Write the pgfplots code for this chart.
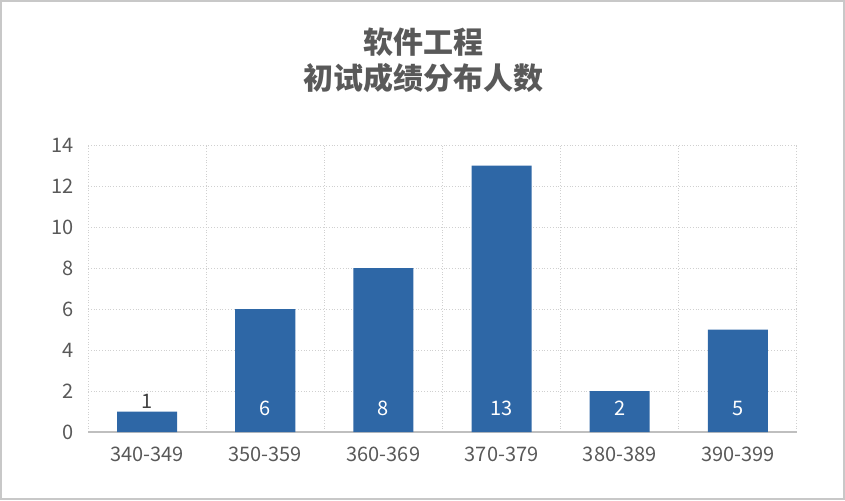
\documentclass[border=0pt]{standalone}
\usepackage{fontspec}
\setmainfont{Noto Sans CJK SC}
\usepackage{pgfplots}
\pgfplotsset{compat=1.18}
\definecolor{barblue}{HTML}{2E67A6}
\definecolor{txtgray}{HTML}{595959}
\definecolor{gridgray}{HTML}{D0D0D0}
\definecolor{axisgray}{HTML}{BFBFBF}
\definecolor{framegray}{HTML}{C8C8C8}

% 1 px of the reference = 0.5pt
\begin{document}
\begin{tikzpicture}
  \path[use as bounding box] (0pt,0pt) rectangle (422.5pt,250pt);
  \draw[framegray, line width=0.6pt] (0.5pt,0.5pt) rectangle (422pt,249.5pt);
  \node[font=\bfseries\fontsize{15}{18}\selectfont, text=txtgray, align=center]
    at (211.5pt,220pt) {软件工程\\初试成绩分布人数};
  \begin{axis}[
    at={(44pt,34pt)}, anchor=south west,
    scale only axis, width=354.5pt, height=143.5pt,
    xmin=-0.5, xmax=5.5, ymin=0, ymax=14,
    ytick={0,2,...,14},
    xtick={0,...,5},
    xticklabels={340-349,350-359,360-369,370-379,380-389,390-399},
    minor xtick={-0.5,0.5,...,5.5},
    ymajorgrids, xminorgrids,
    major grid style={gridgray, densely dotted, line width=0.5pt},
    minor grid style={gridgray, densely dotted, line width=0.5pt},
    axis x line*=bottom, axis y line*=left,
    axis line style={-},
    y axis line style={draw=none},
    x axis line style={draw=axisgray, line width=0.7pt},
    major tick length=0pt, minor tick length=0pt,
    tick style={draw=none},
    ticklabel style={font=\fontsize{10}{12}\selectfont, text=txtgray},
    /pgf/number format/assume math mode=true,
    yticklabel style={xshift=-3.5pt},
    xticklabel style={yshift=-4pt},
  ]
    % bars
    \addplot[ybar, bar width=30pt, fill=barblue, draw=none]
      coordinates {(0,1) (1,6) (2,8) (3,13) (4,2) (5,5)};
    % labels inside the bars
    \addplot[draw=none, mark=none, nodes near coords, point meta=explicit symbolic,
      nodes near coords style={text=white, anchor=center, yshift=12pt,
        font=\fontsize{10}{12}\selectfont}]
      coordinates {(1,0)[6] (2,0)[8] (3,0)[13] (4,0)[2] (5,0)[5]};
    % label above the short bar
    \addplot[draw=none, mark=none, nodes near coords, point meta=explicit symbolic,
      nodes near coords style={text=black!75, anchor=center, yshift=5pt,
        font=\fontsize{10}{12}\selectfont}]
      coordinates {(0,1)[1]};
  \end{axis}
\end{tikzpicture}
\end{document}
